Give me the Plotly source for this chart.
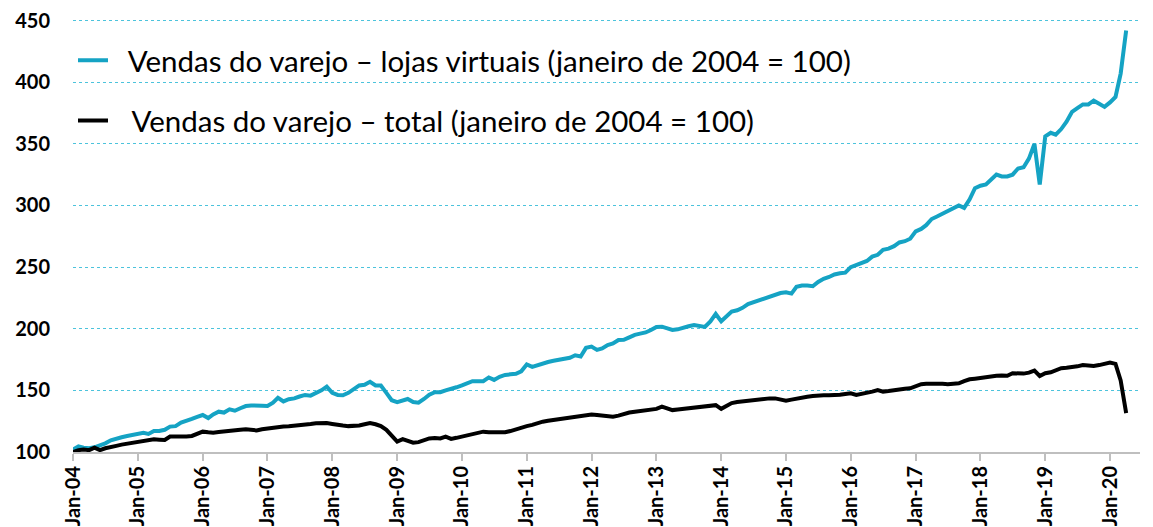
import pandas as pd
import plotly.graph_objects as go

# Monthly index values, Jan 2004 .. Apr 2020 (janeiro de 2004 = 100)
months = pd.date_range("2004-01-01", periods=196, freq="MS")

online = [
    102, 104.5, 103.5, 103, 103.8, 105.2, 107, 109.5, 111, 112, 113, 113.8,           # 2004
    115, 115.5, 114.6, 117, 117, 118, 120.6, 121, 123.8, 125, 126.8, 128.5,           # 2005
    130, 127.5, 130.5, 132.7, 132, 134.6, 133.5, 135.5, 137.3, 137.8, 138, 137.5,     # 2006
    137.3, 140, 144, 141, 142.8, 143.5, 145, 146.3, 145.7, 147.5, 150, 153,           # 2007
    148, 146.3, 146, 148, 151, 154, 154.5, 157, 154, 154, 148, 142,                   # 2008
    140.5, 142, 143, 140.5, 140, 143, 146.5, 148.5, 148.5, 150, 151, 152.5,           # 2009
    154, 155.5, 157.5, 157.5, 157.5, 160.5, 158.5, 161, 162.5, 163, 163.5, 165.5,     # 2010
    171, 169, 170.5, 172, 173, 174, 175, 176, 176.5, 178.5, 177.5, 184.5,             # 2011
    185.5, 182.8, 184, 186.8, 188, 190.9, 191, 193, 195, 196, 197, 199,               # 2012
    201.5, 201.7, 200.5, 199, 199.5, 201, 202, 203, 202.5, 201.5, 206, 212,           # 2013
    206, 210.5, 213.9, 215, 217, 220, 221.5, 222.5, 224.5, 226, 227.5, 229,           # 2014
    229.6, 228.5, 234, 235, 235, 234.5, 238, 240.5, 242, 244, 245, 245.5,             # 2015
    250, 252, 253, 255, 258.5, 260, 264, 265, 267, 270, 271, 273,                     # 2016
    279, 281, 284, 289, 291, 293.5, 295.5, 298, 300, 298, 305, 314,                   # 2017
    316, 317, 321, 325, 323.5, 323.5, 325, 330, 331, 338, 350, 317,                   # 2018
    356, 359, 357.5, 362, 368, 376, 379, 382, 382, 385, 382.5, 380,                   # 2019
    383.6, 388, 407, 442,                                                             # 2020
]

total = [
    100, 101.5, 102, 101.5, 103.5, 101.5, 103, 104.3, 105, 106, 106.8, 107.5,         # 2004
    108.4, 108.8, 109.2, 110.3, 110, 109.7, 112.5, 112.4, 112.4, 112.6, 113, 114.5,   # 2005
    116.5, 116, 115.7, 116.2, 116.8, 117.3, 117.6, 118, 118.4, 118, 117.5, 118.5,     # 2006
    119.2, 119.7, 120.3, 120.6, 120.8, 121.1, 121.6, 122.2, 122.7, 123.3, 123.8, 123.5,  # 2007
    122.8, 122.5, 121.5, 121, 121, 121.5, 122.5, 123.5, 122.5, 121, 118, 113,         # 2008
    108.5, 110.5, 109, 107.5, 108, 109.5, 111, 111.4, 111, 112.5, 110.6, 111.5,       # 2009
    112.5, 113, 113.8, 115.5, 116.5, 116, 115.8, 115.7, 116, 117, 118.5, 120,         # 2010
    121, 122, 123.5, 124.6, 125.3, 126, 126.5, 127.3, 127.8, 128.5, 129.2, 130,       # 2011
    130.5, 130, 129.5, 129, 128.7, 129.5, 131, 132, 132.7, 133.2, 133.6, 134,         # 2012
    135, 136.8, 135.5, 134, 134.5, 135, 135.5, 136, 136.3, 136.8, 137.3, 138,         # 2013
    135, 137.5, 139.7, 140.5, 141, 142, 142.5, 143, 143.3, 143.5, 143.5, 142.5,       # 2014
    141.6, 142.5, 143.5, 144.5, 144.9, 145.5, 146, 146, 146, 146, 146.5, 147,         # 2015
    147.6, 146.3, 147, 148, 149, 150.3, 149, 149.5, 150.3, 150.9, 151.3, 151.7,       # 2016
    153, 155, 155.3, 155.5, 155.7, 155.3, 155, 155.3, 155.7, 157.5, 159, 159.5,       # 2017
    160.3, 160.8, 161.3, 161.9, 162, 161.8, 163.9, 163.4, 163.6, 164.4, 166, 161.7,   # 2018
    163.9, 164.7, 166, 168, 168.3, 168.7, 169.5, 170.6, 170, 169.8, 170.5, 171.2,     # 2019
    172.5, 171.5, 158, 131.5,                                                         # 2020
]

series_names = [
    "\u2002Vendas do varejo – lojas virtuais (janeiro de 2004 = 100)",
    "\u2002\u2009Vendas do varejo – total (janeiro de 2004 = 100)",
]
series_colors = ["#15a3c4", "#000000"]

y_ticks = [100, 150, 200, 250, 300, 350, 400, 450]
x_ticks = pd.date_range("2004-01-01", "2020-01-01", freq="YS")
x_tick_labels = [d.strftime("Jan-%y") for d in x_ticks]

fig = go.Figure()
for i, (vals, name, col) in enumerate(zip([online, total], series_names, series_colors)):
    fig.add_trace(go.Scatter(
        x=months, y=vals, mode="lines", name=name,
        line=dict(color=col, width=4),
        legendgroup=f"g{i}",
    ))

fig.update_layout(
    width=1145, height=519,
    margin=dict(l=65, r=13, t=10, b=75),
    paper_bgcolor="white", plot_bgcolor="white",
    font=dict(family="Lato, sans-serif", color="#000000"),
    showlegend=True,
    legend=dict(
        x=0.0, y=0.962, xanchor="left", yanchor="top",
        bgcolor="rgba(0,0,0,0)",
        font=dict(size=29.5, family="Lato, sans-serif", color="#000000"),
        traceorder="grouped", tracegroupgap=19,
        itemwidth=30,
    ),
    xaxis=dict(
        range=["2004-01-01", "2020-06-18"],
        tickvals=x_ticks, ticktext=x_tick_labels,
        tickangle=-90,
        tickfont=dict(size=20, family="Lato, sans-serif", color="#000000", weight="bold"),
        showgrid=False, zeroline=False,
        showline=True, linecolor="#bfbfbf", linewidth=2,
        ticks="outside", ticklen=7, tickcolor="#bfbfbf", tickwidth=1.5,
        ticklabelstandoff=-3,
        ticklabeloverflow="allow",
        automargin=False,
        layer="below traces",
    ),
    yaxis=dict(
        range=[100, 452.1],
        tickvals=y_ticks,
        tickfont=dict(size=20, family="Lato, sans-serif", color="#000000", weight="bold"),
        showgrid=True, gridcolor="#4cc3dc", griddash="dot", gridwidth=1,
        zeroline=False, showline=False, ticks="",
        ticklabelstandoff=22,
        ticklabeloverflow="allow",
        automargin=False,
    ),
)

fig.write_html("out.html")
